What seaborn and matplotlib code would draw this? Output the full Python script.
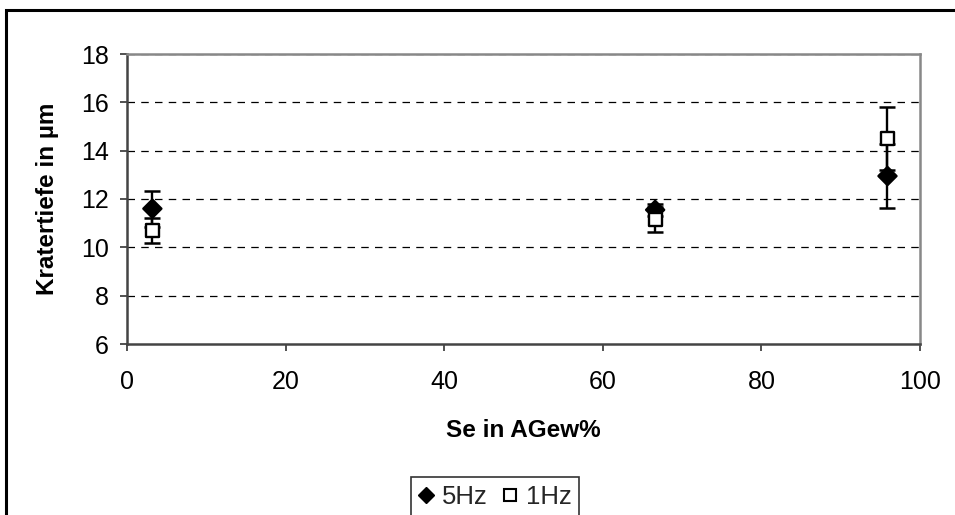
import matplotlib
matplotlib.use("Agg")
import matplotlib.pyplot as plt
import seaborn as sns
import pandas as pd
from matplotlib.patches import Rectangle
from matplotlib.lines import Line2D

se = [3.2, 66.6, 95.9]
depth_5hz = [11.6, 11.55, 12.95]
err_5hz = [0.75, 0.25, 1.32]
depth_1hz = [10.7, 11.15, 14.5]
err_1hz = [0.5, 0.5, 1.3]
series = ["5Hz", "1Hz"]

df = pd.DataFrame({
    "Se": se + se,
    "depth": depth_5hz + depth_1hz,
    "err": err_5hz + err_1hz,
    "series": [series[0]] * 3 + [series[1]] * 3,
})

sns.set_theme(style="white")
plt.rcParams["font.family"] = ["Liberation Sans", "DejaVu Sans"]

fig = plt.figure(figsize=(9.55, 5.15), dpi=100)
ax = fig.add_axes([127 / 955, 1 - 344 / 515, (920 - 127) / 955, (344 - 54) / 515])

for s in series:
    sub = df[df["series"] == s]
    ax.errorbar(sub["Se"], sub["depth"], yerr=sub["err"], fmt="none",
                ecolor="black", elinewidth=1.8, capsize=6, capthick=1.8, zorder=3)

sns.scatterplot(data=df, x="Se", y="depth", hue="series", style="series",
                markers={"5Hz": "D", "1Hz": "s"},
                palette={"5Hz": "black", "1Hz": "white"},
                s=85, ax=ax, zorder=4, legend=False)
for c in ax.collections:
    c.set_edgecolor("black")
    c.set_linewidth(1.7)

ax.set_xlim(0, 100)
ax.set_ylim(6, 18)
ax.set_xticks(range(0, 101, 20))
ax.set_yticks(range(6, 19, 2))
ax.tick_params(axis="both", labelsize=18, labelcolor="black", length=5, width=1.2,
               direction="out", color="#333333", bottom=True, left=True)
ax.tick_params(axis="x", pad=14)
ax.tick_params(axis="y", pad=8)
for y in range(8, 19, 2):
    ax.axhline(y, color="black", linestyle=(0, (6, 5)), linewidth=0.9, zorder=1)

for side, col in [("left", "#444444"), ("bottom", "#444444"), ("top", "#888888"), ("right", "#888888")]:
    ax.spines[side].set_color(col)
    ax.spines[side].set_linewidth(1.8)

ax.set_xlabel("Se in AGew%", fontsize=17.5, fontweight="bold", color="black", labelpad=18)
ax.set_ylabel("Kratertiefe in µm", fontsize=17.5, fontweight="bold", color="black", labelpad=16)

handles = [
    Line2D([], [], marker="D", color="black", markerfacecolor="black", linestyle="none", markersize=8),
    Line2D([], [], marker="s", color="black", markerfacecolor="white", linestyle="none", markersize=8,
           markeredgewidth=1.5),
]
leg = fig.legend(handles, series, loc="center", bbox_to_anchor=(495 / 955, 1 - 497 / 515),
                 ncol=2, fontsize=18.5, frameon=True, fancybox=False, handlelength=0.6,
                 handletextpad=0.3, columnspacing=0.6, borderpad=0.3)
leg.get_frame().set_edgecolor("black")
leg.get_frame().set_linewidth(1.2)

fig.patches.append(Rectangle((6 / 955, -0.05), 1.1, 1 - 10 / 515 + 0.05, transform=fig.transFigure,
                             fill=False, edgecolor="black", linewidth=2.2))

fig.savefig("out.png", dpi=100, facecolor="white")
